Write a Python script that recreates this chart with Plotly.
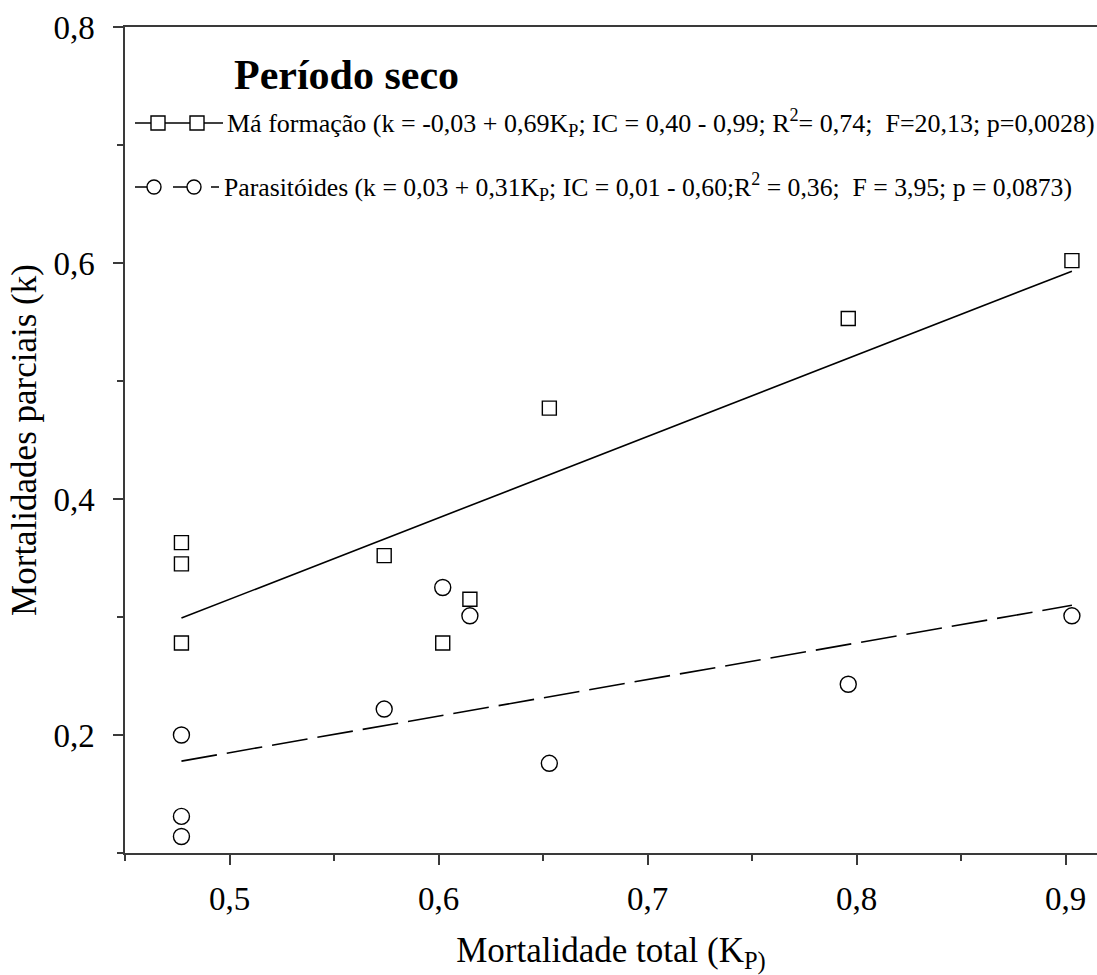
import plotly.graph_objects as go

# Total mortality (K_P) and partial mortalities (k), dry period
kp = [0.477, 0.477, 0.477, 0.574, 0.602, 0.615, 0.653, 0.796, 0.903]
k_ma_formacao = [0.363, 0.345, 0.278, 0.352, 0.278, 0.315, 0.477, 0.553, 0.602]
k_parasitoides = [0.200, 0.131, 0.114, 0.222, 0.325, 0.301, 0.176, 0.243, 0.301]

# Fitted regressions k = a + b*K_P
fit_ma = (-0.03, 0.69)
fit_par = (0.03, 0.31)

title_text = "Período seco"
legend_ma = ("Má formação (k = -0,03 + 0,69K<sub>P</sub>; IC = 0,40 - 0,99; "
             "R<sup>2</sup>= 0,74;\u00a0\u00a0F=20,13; p=0,0028)")
legend_par = ("Parasitóides (k = 0,03 + 0,31K<sub>P</sub>; IC = 0,01 - 0,60;"
              "R<sup>2</sup> = 0,36;\u00a0\u00a0F = 3,95; p = 0,0873)")

FONT = "Liberation Serif"

xfit = [min(kp), max(kp)]

fig = go.Figure()

fig.add_trace(go.Scatter(
    x=xfit, y=[fit_ma[0] + fit_ma[1] * v for v in xfit],
    mode="lines", line=dict(color="black", width=1.6), showlegend=False))
fig.add_trace(go.Scatter(
    x=xfit, y=[fit_par[0] + fit_par[1] * v for v in xfit],
    mode="lines", line=dict(color="black", width=1.6, dash="36px,10px"),
    showlegend=False))

fig.add_trace(go.Scatter(
    x=kp, y=k_ma_formacao, mode="markers",
    marker=dict(symbol="square-open", size=14, color="black",
                line=dict(width=1.4)),
    showlegend=False))
fig.add_trace(go.Scatter(
    x=kp, y=k_parasitoides, mode="markers",
    marker=dict(symbol="circle-open", size=16, color="black",
                line=dict(width=1.4)),
    showlegend=False))

# Plot area in pixels: x 125..1097, y 27..853
L, R, T, B = 125, 1097, 27, 853


def px(xp):
    return (xp - L) / (R - L)


def py(yp):
    return (B - yp) / (B - T)


shapes = []
# legend row 1: solid line with two squares
y1 = py(123)
shapes.append(dict(type="line", xref="paper", yref="paper",
                   x0=px(135), x1=px(223), y0=y1, y1=y1,
                   line=dict(color="black", width=1.5)))
for cx in (158, 197):
    shapes.append(dict(type="rect", xref="paper", yref="paper",
                       xsizemode="pixel", ysizemode="pixel",
                       xanchor=px(cx), yanchor=y1,
                       x0=-7, x1=7, y0=-7, y1=7,
                       fillcolor="white", line=dict(color="black", width=1.4)))
# legend row 2: dashed line with two circles
y2 = py(187)
shapes.append(dict(type="line", xref="paper", yref="paper",
                   x0=px(135), x1=px(219), y0=y2, y1=y2,
                   line=dict(color="black", width=1.5, dash="24px,14px")))
for cx in (154, 194):
    shapes.append(dict(type="circle", xref="paper", yref="paper",
                       xsizemode="pixel", ysizemode="pixel",
                       xanchor=px(cx), yanchor=y2,
                       x0=-7, x1=7, y0=-7, y1=7,
                       fillcolor="white", line=dict(color="black", width=1.4)))

annotations = [
    dict(text="<b>" + title_text + "</b>", xref="paper", yref="paper",
         x=px(232), y=py(75), xanchor="left", yanchor="middle",
         showarrow=False, font=dict(family=FONT, size=42, color="black")),
    dict(text=legend_ma, xref="paper", yref="paper",
         x=px(225), y=y1, xanchor="left", yanchor="middle",
         showarrow=False, font=dict(family=FONT, size=26, color="black")),
    dict(text=legend_par, xref="paper", yref="paper",
         x=px(222), y=y2, xanchor="left", yanchor="middle",
         showarrow=False, font=dict(family=FONT, size=25.7, color="black")),
]

axis_color = "#3a3a3a"

fig.update_layout(
    width=1097, height=975,
    margin=dict(l=L, r=1097 - R, t=T, b=975 - B),
    paper_bgcolor="white", plot_bgcolor="white",
    separators=",.",
    font=dict(family=FONT, color="black"),
    shapes=shapes, annotations=annotations,
    xaxis=dict(
        range=[0.45, 0.915], tick0=0, dtick=0.1, tickformat=".1f",
        ticks="outside", ticklen=10, tickwidth=1.5, tickcolor=axis_color,
        showline=True, linecolor=axis_color, linewidth=1.5,
        mirror=True, showgrid=False, zeroline=False,
        minor=dict(dtick=0.05, tick0=0, ticks="outside", ticklen=6,
                   tickwidth=1.5, tickcolor=axis_color, showgrid=False),
        tickfont=dict(family=FONT, size=33, color="black"),
        ticklabelstandoff=6,
        title=dict(text="Mortalidade total (K<sub>P)</sub>",
                   font=dict(family=FONT, size=35, color="black"), standoff=22),
    ),
    yaxis=dict(
        range=[0.1, 0.8], tick0=0, dtick=0.2, tickformat=".1f",
        ticks="outside", ticklen=10, tickwidth=1.5, tickcolor=axis_color,
        showline=True, linecolor=axis_color, linewidth=1.5,
        mirror=False, showgrid=False, zeroline=False,
        minor=dict(dtick=0.1, tick0=0, ticks="outside", ticklen=6,
                   tickwidth=1.5, tickcolor=axis_color, showgrid=False),
        tickfont=dict(family=FONT, size=33, color="black"),
        ticklabelstandoff=12,
        title=dict(text="Mortalidades parciais (k)",
                   font=dict(family=FONT, size=35, color="black"), standoff=6),
    ),
)

fig.write_html("out.html")
